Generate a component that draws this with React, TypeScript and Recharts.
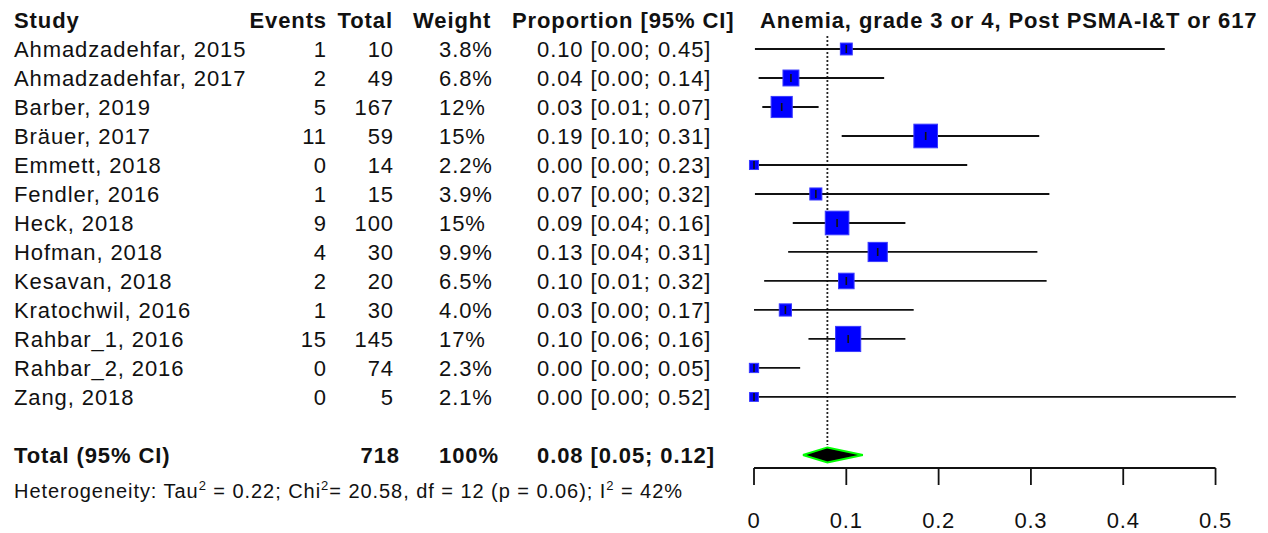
import React from "react";
import {
  ComposedChart,
  Scatter,
  ErrorBar,
  Area,
  XAxis,
  YAxis,
  ReferenceLine,
} from "recharts";

// Studies (rows 1..13, top to bottom)
const STUDIES = [
  "Ahmadzadehfar, 2015",
  "Ahmadzadehfar, 2017",
  "Barber, 2019",
  "Bräuer, 2017",
  "Emmett, 2018",
  "Fendler, 2016",
  "Heck, 2018",
  "Hofman, 2018",
  "Kesavan, 2018",
  "Kratochwil, 2016",
  "Rahbar_1, 2016",
  "Rahbar_2, 2016",
  "Zang, 2018",
];
const EVENTS = [1, 2, 5, 11, 0, 1, 9, 4, 2, 1, 15, 0, 0];
const TOTALS = [10, 49, 167, 59, 14, 15, 100, 30, 20, 30, 145, 74, 5];
const WEIGHT_LABELS = ["3.8%", "6.8%", "12%", "15%", "2.2%", "3.9%", "15%", "9.9%", "6.5%", "4.0%", "17%", "2.3%", "2.1%"];
const WEIGHTS = [3.8, 6.8, 12, 15, 2.2, 3.9, 15, 9.9, 6.5, 4.0, 17, 2.3, 2.1];
const PROP_LABELS = [
  "0.10 [0.00; 0.45]",
  "0.04 [0.00; 0.14]",
  "0.03 [0.01; 0.07]",
  "0.19 [0.10; 0.31]",
  "0.00 [0.00; 0.23]",
  "0.07 [0.00; 0.32]",
  "0.09 [0.04; 0.16]",
  "0.13 [0.04; 0.31]",
  "0.10 [0.01; 0.32]",
  "0.03 [0.00; 0.17]",
  "0.10 [0.06; 0.16]",
  "0.00 [0.00; 0.05]",
  "0.00 [0.00; 0.52]",
];
// plotted estimates / CI ends
const EST = [0.1, 0.04, 0.03, 0.186, 0.0, 0.067, 0.09, 0.134, 0.1, 0.034, 0.102, 0.0, 0.0];
const LO = [0.001, 0.005, 0.009, 0.095, 0.0, 0.001, 0.042, 0.037, 0.011, 0.0, 0.059, 0.0, 0.0];
const HI = [0.445, 0.141, 0.07, 0.309, 0.231, 0.32, 0.164, 0.307, 0.317, 0.173, 0.164, 0.05, 0.522];

// pooled estimate
const SUM_EST = 0.0795;
const SUM_LO = 0.053;
const SUM_HI = 0.118;
const TOTAL_N = 718;
const TOTAL_ROW = 15;

const TICKS = [0, 0.1, 0.2, 0.3, 0.4, 0.5];

// heterogeneity line: [text, isSuperscript]
const HETERO: [string, boolean][] = [
  ["Heterogeneity: Tau", false],
  ["2", true],
  [" = 0.22; Chi", false],
  ["2", true],
  ["= 20.58, df = 12 (p = 0.06); I", false],
  ["2", true],
  [" = 42%", false],
];

const FONT = '"Liberation Sans", Arial, Helvetica, sans-serif';
const INK = "#111";

const rows = STUDIES.map((s, i) => ({
  x: EST[i],
  y: i + 1,
  err: [EST[i] - LO[i], HI[i] - EST[i]],
  w: WEIGHTS[i],
}));

const textRows = [
  ...STUDIES.map((s, i) => ({
    x: 0,
    y: i + 1,
    study: s,
    events: String(EVENTS[i]),
    total: String(TOTALS[i]),
    weight: WEIGHT_LABELS[i],
    prop: PROP_LABELS[i],
    bold: false,
  })),
  {
    x: 0,
    y: TOTAL_ROW,
    study: "Total (95% CI)",
    events: "",
    total: String(TOTAL_N),
    weight: "100%",
    prop: "0.08 [0.05; 0.12]",
    bold: true,
  },
];

const diamond = [
  { x: SUM_LO, band: [TOTAL_ROW, TOTAL_ROW] },
  { x: SUM_EST, band: [TOTAL_ROW + 0.26, TOTAL_ROW - 0.26] },
  { x: SUM_HI, band: [TOTAL_ROW, TOTAL_ROW] },
];

const RowText = (props: any) => {
  const { cy, payload } = props;
  const y = cy + 8;
  return (
    <g
      fontFamily={FONT}
      fontSize={22}
      letterSpacing={0.9}
      fill={INK}
      fontWeight={payload.bold ? "bold" : "normal"}
    >
      <text x={14} y={y}>{payload.study}</text>
      {payload.events !== "" && (
        <text x={327} y={y} textAnchor="end">{payload.events}</text>
      )}
      <text x={payload.bold ? 400 : 394} y={y} textAnchor="end">{payload.total}</text>
      <text x={439} y={y}>{payload.weight}</text>
      <text x={537} y={y}>{payload.prop}</text>
    </g>
  );
};

const Square = (props: any) => {
  const { cx, cy, payload } = props;
  const s = 6.1 * Math.sqrt(payload.w);
  return <rect x={cx - s / 2} y={cy - s / 2} width={s} height={s} fill="#0000ff" stroke="#3a3aff" strokeWidth={1} />;
};

const Tick = (props: any) => {
  const { cx, cy } = props;
  return <line x1={cx} x2={cx} y1={cy - 4} y2={cy + 4} stroke={INK} strokeWidth={1.6} />;
};

export default function App() {
  return (
    <div style={{ position: "absolute", left: 0, top: 0, width: 1268, height: 533, background: "#fff" }}>
      <ComposedChart
        width={1268}
        height={533}
        margin={{ top: 34.5, right: 6.3, left: 754, bottom: 0 }}
      >
        <XAxis
          type="number"
          dataKey="x"
          domain={[0, 0.55]}
          ticks={TICKS}
          axisLine={false}
          tickSize={17}
          tickMargin={27}
          height={65}
          interval={0}
          tickLine={{ stroke: INK, strokeWidth: 1.8 }}
          tick={{ fontSize: 22, fill: INK, fontFamily: FONT, letterSpacing: 0.8 }}
          tickFormatter={(v: number) => (v === 0 ? "0" : v.toFixed(1))}
        />
        <YAxis type="number" dataKey="y" domain={[0.5, 15.45]} reversed hide width={0} />
        <ReferenceLine
          segment={[{ x: 0, y: 15.45 }, { x: 0.5, y: 15.45 }]}
          stroke={INK}
          strokeWidth={1.8}
          ifOverflow="visible"
        />
        <ReferenceLine
          segment={[{ x: SUM_EST, y: 0.55 }, { x: SUM_EST, y: 14.66 }]}
          stroke="#222"
          strokeWidth={1.8}
          strokeDasharray="2 2"
          ifOverflow="visible"
        />
        <Scatter data={textRows} shape={RowText} isAnimationActive={false} />
        <Scatter data={rows} shape={Square} isAnimationActive={false} />
        <Scatter data={rows} shape={Tick} isAnimationActive={false}>
          <ErrorBar dataKey="err" direction="x" width={0} stroke={INK} strokeWidth={1.8} isAnimationActive={false} />
        </Scatter>
        <Area
          data={diamond}
          dataKey="band"
          type="linear"
          fill="#000"
          fillOpacity={1}
          stroke="#00ff00"
          strokeWidth={2}
          dot={false}
          activeDot={false}
          isAnimationActive={false}
        />
      </ComposedChart>
      <svg
        width={1268}
        height={533}
        style={{ position: "absolute", left: 0, top: 0, pointerEvents: "none" }}
        fontFamily={FONT}
        fill={INK}
      >
        <g fontSize={22} fontWeight="bold" letterSpacing={0.9}>
          <text x={14} y={28}>Study</text>
          <text x={327} y={28} textAnchor="end">Events</text>
          <text x={393} y={28} textAnchor="end">Total</text>
          <text x={413} y={28}>Weight</text>
          <text x={512} y={28}>Proportion [95% CI]</text>
          <text x={760} y={28}>Anemia, grade 3 or 4, Post PSMA-I&amp;T or 617</text>
        </g>
        <text x={14} y={498} fontSize={20} letterSpacing={0.95}>
          {HETERO.map(([t, sup], i) => {
            const prevSup = i > 0 && HETERO[i - 1][1];
            const dy = sup ? -8 : prevSup ? 8 : 0;
            return (
              <tspan key={i} dy={dy} fontSize={sup ? 13 : 20}>
                {t}
              </tspan>
            );
          })}
        </text>
      </svg>
    </div>
  );
}
